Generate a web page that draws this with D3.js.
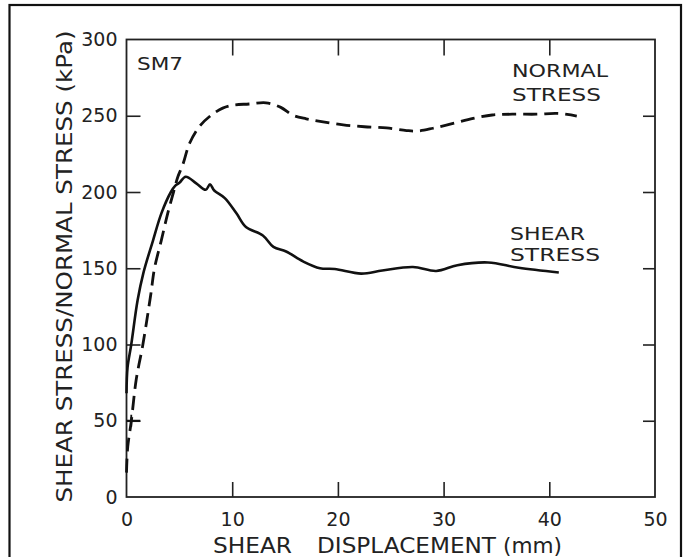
<!DOCTYPE html>
<html>
<head>
<meta charset="utf-8">
<script src="https://cdn.jsdelivr.net/npm/d3@7"></script>
<style>
  body { margin: 0; background: #fff; }
  svg { display: block; }
  .axis text { font-family: "DejaVu Sans", sans-serif; font-size: 19px; fill: #222; }
  .axis line { stroke: #222; stroke-width: 1.6px; }
  .lbl { font-family: "DejaVu Sans", sans-serif; fill: #222; }
</style>
</head>
<body>
<svg width="689" height="557"></svg>
<script>
// shear stress curve (solid)
var shearX = [0, 0.1, 0.45, 1.05, 1.6, 2.5, 3.3, 4.2, 4.6, 5.0, 5.6, 6.6, 7.5, 7.9, 8.3, 9.3, 10.4, 11.3, 12.9, 13.9, 15.1, 16.7, 18.3, 19.7, 22.2, 24.2, 27.1, 29.3, 31.3, 34.2, 37.1, 40.9];
var shearY = [68, 85, 100, 129, 147, 168, 186, 200, 204, 206, 210, 205.7, 201.5, 205, 201, 196, 186, 177, 171.5, 164, 161, 154.5, 150, 149.5, 146.5, 148.5, 150.8, 148.2, 152, 153.8, 150.3, 147.2];

// normal stress curve (dashed)
var normalX = [0, 0.12, 0.45, 0.92, 1.55, 2.3, 2.65, 3.3, 3.9, 4.45, 4.86, 5.33, 5.97, 6.9, 7.86, 9.1, 10.1, 11.6, 13.2, 14.6, 15.7, 17, 18.6, 20.5, 22.5, 24.6, 26.5, 27.6, 29, 30.9, 32.8, 34.6, 36.5, 38.8, 40.8, 42.6];
var normalY = [16, 33, 49.5, 77, 100, 133, 150, 168.5, 186, 200, 210, 218, 232, 243, 249.5, 255, 257, 257.7, 258.5, 255.5, 250.5, 248, 246, 244, 242.8, 242, 240.3, 240, 241.8, 245, 248.3, 250.5, 251, 251, 251.5, 249.8];

var xTicks = [0, 10, 20, 30, 40, 50];
var yTicks = [0, 50, 100, 150, 200, 250, 300];
var crossMark = [0.45, 50];

var svg = d3.select('svg');

// outer frame of the picture
svg.append('rect')
	.attr('x', 9.5).attr('y', 5)
	.attr('width', 671.5).attr('height', 570)
	.attr('fill', 'none')
	.attr('stroke', '#111')
	.attr('stroke-width', 2.2);

var plotL = 126.5, plotR = 655, plotT = 39.5, plotB = 497;

var x = d3.scaleLinear().domain([0, 50]).range([plotL, plotR]),
	y = d3.scaleLinear().domain([0, 300]).range([plotB, plotT]);

// ticks + labels
svg.append('g')
	.attr('class', 'axis')
	.attr('transform', 'translate(' + plotL + ',0)')
	.call(d3.axisLeft(y).tickValues(yTicks).tickSizeInner(-14).tickSizeOuter(0).tickPadding(9));

svg.append('g')
	.attr('class', 'axis')
	.attr('transform', 'translate(' + plotR + ',0)')
	.call(d3.axisRight(y).tickValues(yTicks.slice(1, -1)).tickSizeInner(-12).tickSizeOuter(0).tickFormat(''));

svg.append('g')
	.attr('class', 'axis')
	.attr('transform', 'translate(0,' + plotB + ')')
	.call(d3.axisBottom(x).tickValues(xTicks).tickSizeInner(-15).tickSizeOuter(0).tickPadding(16));

svg.append('g')
	.attr('class', 'axis')
	.attr('transform', 'translate(0,' + plotT + ')')
	.call(d3.axisTop(x).tickValues(xTicks.slice(1, -1)).tickSizeInner(-16).tickSizeOuter(0).tickFormat(''));

svg.selectAll('.axis .domain').remove();
// ticks at the corners sit on the frame, hide them
svg.selectAll('.axis .tick line').filter(function(d) { return d === 0 || d === 300 || d === 50 && this.getAttribute('y2'); }).remove();

// plot frame
svg.append('rect')
	.attr('x', plotL).attr('y', plotT)
	.attr('width', plotR - plotL).attr('height', plotB - plotT)
	.attr('fill', 'none')
	.attr('stroke', '#222')
	.attr('stroke-width', 1.8);

var line = d3.line()
	.x(function(d) { return x(d[0]); })
	.y(function(d) { return y(d[1]); })
	.curve(d3.curveCatmullRom.alpha(0.5));

var shear = shearX.map(function(v, i) { return [v, shearY[i]]; });
var normal = normalX.map(function(v, i) { return [v, normalY[i]]; });

svg.append('path')
	.datum(normal)
	.attr('d', line)
	.attr('fill', 'none')
	.attr('stroke', '#111')
	.attr('stroke-width', 2.8)
	.attr('stroke-dasharray', '14,7');

svg.append('path')
	.datum(shear)
	.attr('d', line)
	.attr('fill', 'none')
	.attr('stroke', '#111')
	.attr('stroke-width', 2.6);

// small cross on the normal stress curve
var cx = x(crossMark[0]), cy = y(crossMark[1]);
svg.append('path')
	.attr('d', 'M' + plotL + ',' + cy + 'H' + (cx + 9) + 'M' + cx + ',' + (cy - 6) + 'V' + (cy + 6))
	.attr('stroke', '#111')
	.attr('stroke-width', 1.8);

// texts
function label(t, tx, ty, size, len) {
	var el = svg.append('text')
		.attr('class', 'lbl')
		.attr('x', tx).attr('y', ty)
		.style('font-size', size + 'px')
		.text(t);
	if (len) el.attr('textLength', len).attr('lengthAdjust', 'spacingAndGlyphs');
	return el;
}

label('SM7', 137, 70, 18, 46);
label('NORMAL', 512, 76.5, 18, 96);
label('STRESS', 512, 100.5, 18, 89);
label('SHEAR', 510, 239.5, 18, 75);
label('STRESS', 510, 260.5, 18, 90);

label('SHEAR', 213, 552.5, 21, 79);
label('DISPLACEMENT', 317, 552.5, 21, 179);
label('(mm)', 503, 552.5, 21, 59);

svg.append('text')
	.attr('class', 'lbl')
	.attr('transform', 'translate(72,266.5) rotate(-90)')
	.attr('text-anchor', 'middle')
	.style('font-size', '22px')
	.attr('textLength', 472)
	.attr('lengthAdjust', 'spacingAndGlyphs')
	.text('SHEAR STRESS/NORMAL STRESS (kPa)');
</script>
</body>
</html>
